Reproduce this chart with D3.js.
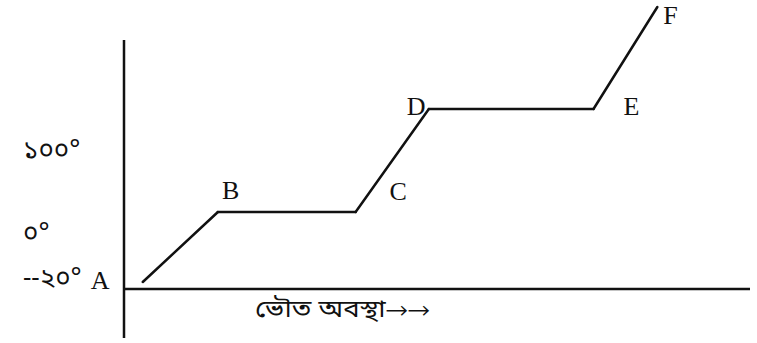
<!DOCTYPE html>
<html>
<head>
<meta charset="utf-8">
<script src="https://cdn.jsdelivr.net/npm/d3@7"></script>
<style>
  body { margin: 0; background: #fff; }
  svg { display: block; }
  .pt { font-family: "Liberation Serif", "DejaVu Serif", serif; font-size: 26px; fill: #111; }
  .bn { font-family: "Noto Sans Bengali", "Noto Serif Bengali", "Lohit Bengali", "FreeSerif", sans-serif; fill: #111; }
</style>
</head>
<body>
<svg width="757" height="343"></svg>
<script>
// heating curve (schematic): heat supplied vs temperature
const pointNames = ["A", "B", "C", "D", "E", "F"];
const heat = [3, 15, 37, 48.7, 75, 85.2];
const temp = [-20, 0, 0, 100, 100, 200];
const tickTemps = [100, 0, -20];
const tickLabels = ["১০০°", "০°", "--২০°"];
const xLabel = "ভৌত অবস্থা→→";

let svg = d3.select("svg");

let x0 = 124, yAxis = 289;

let xScale = d3.scaleLinear().domain([0, 100]).range([x0, 750]);
// schematic, not to scale: piecewise
let yScale = d3.scaleLinear().domain([-20, 0, 100, 200]).range([282, 212, 109, 7]);
let yTick = d3.scaleLinear().domain([-20, 0, 100]).range([286, 241, 158]);

// axes
svg.append("line")
    .attr("x1", x0).attr("y1", 40)
    .attr("x2", x0).attr("y2", 338)
    .attr("stroke", "#111").attr("stroke-width", 2.5);
svg.append("line")
    .attr("x1", x0).attr("y1", yAxis)
    .attr("x2", xScale(100)).attr("y2", yAxis)
    .attr("stroke", "#111").attr("stroke-width", 2.5);

// curve segments, each drawn separately like the original
for (let i = 0; i < heat.length - 1; i++) {
    svg.append("line")
        .attr("x1", xScale(heat[i]))
        .attr("y1", yScale(temp[i]))
        .attr("x2", xScale(heat[i + 1]))
        .attr("y2", yScale(temp[i + 1]))
        .attr("stroke", "#111")
        .attr("stroke-width", 2.5)
        .attr("stroke-linecap", "round");
}

// point letters
let labelPos = {
    A: [-52, 7],  B: [4, -13], C: [34, -12],
    D: [-22, 6], E: [30, 6],  F: [6, 17]
};
pointNames.forEach((n, i) => {
    svg.append("text")
        .attr("class", "pt")
        .attr("x", xScale(heat[i]) + labelPos[n][0])
        .attr("y", yScale(temp[i]) + labelPos[n][1])
        .text(n);
});

// temperature labels
tickTemps.forEach((t, i) => {
    svg.append("text")
        .attr("class", "bn")
        .attr("x", 23)
        .attr("y", yTick(t))
        .attr("font-size", "26px")
        .text(tickLabels[i]);
});

svg.append("text")
    .attr("class", "bn")
    .attr("x", 255)
    .attr("y", 317)
    .attr("font-size", "24px")
    .attr("textLength", 175)
    .attr("lengthAdjust", "spacingAndGlyphs")
    .text(xLabel);
</script>
</body>
</html>
